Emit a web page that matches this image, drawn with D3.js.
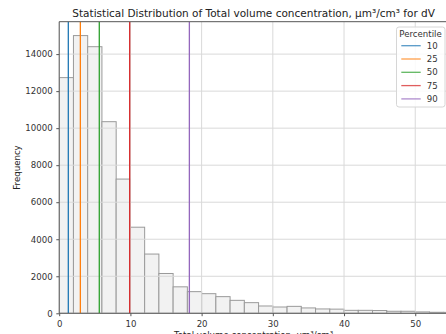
<!DOCTYPE html>
<html>
<head>
<meta charset="utf-8">
<script src="https://cdn.jsdelivr.net/npm/d3@7"></script>
<style>
  html, body { margin: 0; padding: 0; background: #fff; overflow: hidden; }
  svg { display: block; font-family: "DejaVu Sans", sans-serif; }
</style>
</head>
<body>
<svg id="chart" width="446" height="334"></svg>
<script>
// Histogram bins: width 2 µm³/cm³, starting at 0
const binWidth = 2;
const binCounts = [12730, 15000, 14400, 10350, 7250, 4650, 3200, 2150, 1430, 1170,
                   1060, 900, 700, 575, 395, 340, 375, 290, 235, 225,
                   160, 160, 150, 110, 110, 75, 55, 50];

// Percentile markers
const percentileLabels = ["10", "25", "50", "75", "90"];
const percentileValues = [1.28, 2.97, 5.63, 9.9, 18.28];
const percentileColors = ["#1f77b4", "#ff7f0e", "#2ca02c", "#d62728", "#9467bd"];

const xTicks = [0, 10, 20, 30, 40, 50];
const yTicks = [0, 2000, 4000, 6000, 8000, 10000, 12000, 14000];

const titleText = "Statistical Distribution of Total volume concentration, µm³/cm³ for dV";
const xLabelText = "Total volume concentration, µm³/cm³";
const yLabelText = "Frequency";
const legendTitle = "Percentile";

const fs = 8.6;       // tick / label / legend font size
const titleFs = 10.5; // title font size

const svg = d3.select("#chart");
const m = { left: 59.2, right: 448, top: 21.7, bottom: 313.3 };

const x = d3.scaleLinear().domain([0, 54.6]).range([m.left, m.right]);
const y = d3.scaleLinear().domain([0, 15750]).range([m.bottom, m.top]);

svg.append("defs").append("clipPath").attr("id", "plotclip")
  .append("rect").attr("x", m.left).attr("y", m.top)
  .attr("width", m.right - m.left).attr("height", m.bottom - m.top);

const plot = svg.append("g").attr("clip-path", "url(#plotclip)");

// bars
plot.append("g").selectAll("rect").data(binCounts).join("rect")
  .attr("x", (d, i) => x(i * binWidth))
  .attr("y", d => y(d))
  .attr("width", (d, i) => x((i + 1) * binWidth) - x(i * binWidth))
  .attr("height", d => y(0) - y(d))
  .attr("fill", "#f2f2f2")
  .attr("stroke", "#9a9a9a")
  .attr("stroke-width", 1);

// grid (drawn above the bars)
const grid = plot.append("g").attr("stroke", "#d9d9d9").attr("stroke-width", 1);
grid.selectAll("line.gx").data(xTicks).join("line").attr("class", "gx")
  .attr("x1", d => x(d)).attr("x2", d => x(d))
  .attr("y1", m.top).attr("y2", m.bottom);
grid.selectAll("line.gy").data(yTicks).join("line").attr("class", "gy")
  .attr("x1", m.left).attr("x2", m.right)
  .attr("y1", d => y(d)).attr("y2", d => y(d));

// percentile lines
plot.append("g").selectAll("line").data(percentileValues).join("line")
  .attr("x1", d => x(d)).attr("x2", d => x(d))
  .attr("y1", m.top).attr("y2", m.bottom)
  .attr("stroke", (d, i) => percentileColors[i])
  .attr("stroke-width", 1.3);

// axes
const xAxis = d3.axisBottom(x).tickValues(xTicks).tickSize(2.9).tickPadding(4.2);
const yAxis = d3.axisLeft(y).tickValues(yTicks).tickSize(2.9).tickPadding(3.6)
  .tickFormat(d3.format("d"));

const gx = svg.append("g").attr("transform", `translate(0,${m.bottom})`).call(xAxis);
const gy = svg.append("g").attr("transform", `translate(${m.left},0)`).call(yAxis);
[gx, gy].forEach(g => {
  g.select(".domain").remove();
  g.selectAll("line").attr("stroke", "#555");
  g.selectAll("text").attr("fill", "#333").style("font-size", fs + "px")
    .style("font-family", "'DejaVu Sans', sans-serif");
});

// spines
svg.append("g").attr("stroke", "#555").attr("stroke-width", 1).attr("fill", "none")
  .call(g => {
    g.append("line").attr("x1", m.left).attr("x2", m.left).attr("y1", m.top).attr("y2", m.bottom);
    g.append("line").attr("x1", m.left).attr("x2", m.right).attr("y1", m.bottom).attr("y2", m.bottom);
    g.append("line").attr("x1", m.left).attr("x2", m.right).attr("y1", m.top).attr("y2", m.top);
    g.append("line").attr("x1", m.right).attr("x2", m.right).attr("y1", m.top).attr("y2", m.bottom);
  });

// title and axis labels
svg.append("text").attr("x", (m.left + m.right) / 2).attr("y", 17.3)
  .attr("text-anchor", "middle").style("font-size", titleFs + "px").attr("fill", "#222")
  .text(titleText);
svg.append("text").attr("x", (m.left + m.right) / 2).attr("y", 338)
  .attr("text-anchor", "middle").style("font-size", fs + "px").attr("fill", "#222")
  .text(xLabelText);
svg.append("text")
  .attr("transform", `translate(19.5,${(m.top + m.bottom) / 2}) rotate(-90)`)
  .attr("text-anchor", "middle").style("font-size", fs + "px").attr("fill", "#222")
  .text(yLabelText);

// legend
const lg = svg.append("g");
lg.append("rect").attr("x", 396.5).attr("y", 27).attr("width", 48.5).attr("height", 80)
  .attr("rx", 2.5).attr("fill", "#fff").attr("fill-opacity", 0.85)
  .attr("stroke", "#d6d6d6").attr("stroke-width", 1);
lg.append("text").attr("x", 420.5).attr("y", 37).attr("text-anchor", "middle")
  .style("font-size", fs + "px").attr("fill", "#333").text(legendTitle);
const items = lg.selectAll("g.item").data(percentileLabels).join("g").attr("class", "item")
  .attr("transform", (d, i) => `translate(0,${45.7 + i * 13.3})`);
items.append("line").attr("x1", 401.3).attr("x2", 420.7).attr("y1", 0).attr("y2", 0)
  .attr("stroke", (d, i) => percentileColors[i]).attr("stroke-opacity", 0.75)
  .attr("stroke-width", 1.3);
items.append("text").attr("x", 426.7).attr("y", 3.1)
  .style("font-size", fs + "px").attr("fill", "#333").text(d => d);
</script>
</body>
</html>
